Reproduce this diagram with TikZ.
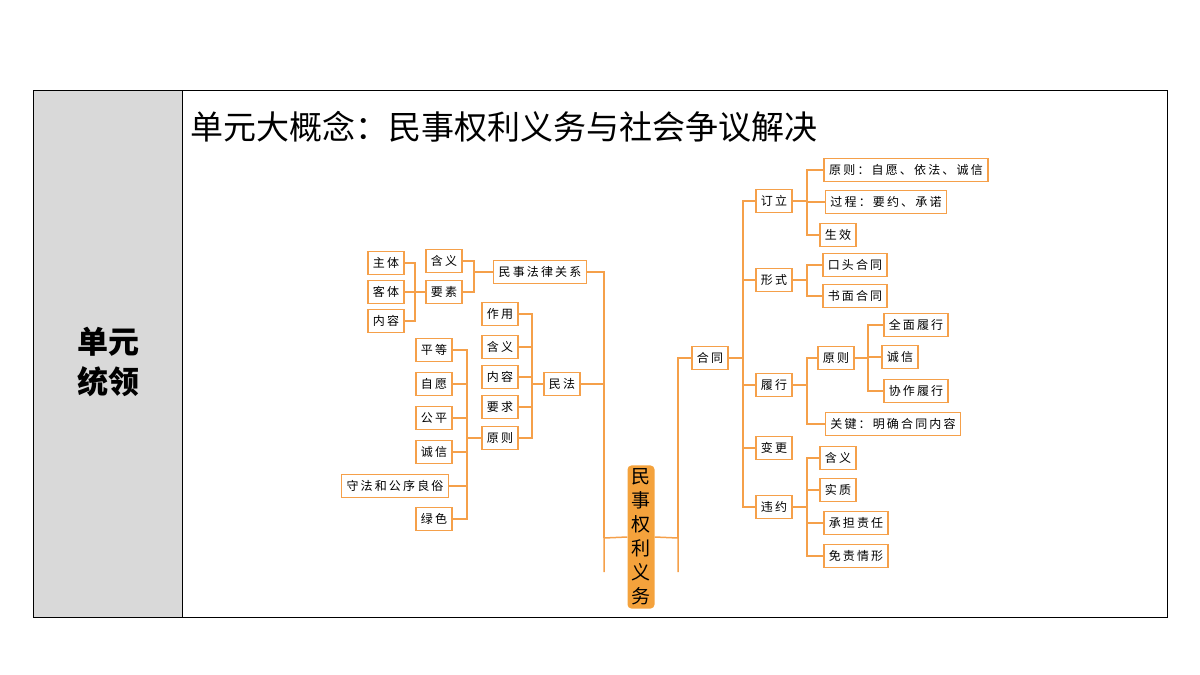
\documentclass[tikz,border=0pt]{standalone}
\usepackage{fontspec}
\newfontfamily\cjk{Noto Sans CJK SC}
\newfontfamily\cjkbox[LetterSpace=18]{Noto Sans CJK SC}
\usetikzlibrary{positioning}
\definecolor{linkorange}{HTML}{F5A04A}
\definecolor{coreorange}{HTML}{F4A23C}
\definecolor{leftgray}{HTML}{D9D9D9}
\tikzset{
  box/.style={draw=linkorange,line width=1.5pt,fill=white,minimum height=23pt,inner xsep=5pt,inner ysep=0pt,font=\cjkbox\fontsize{12}{12}\selectfont},
  link/.style={draw=linkorange,line width=1.5pt},
}
\begin{document}
\begin{tikzpicture}[x=1pt,y=-1pt]
\useasboundingbox (0,0) rectangle (1200,675);
% frame
\fill[leftgray] (33,90) rectangle (182,617);
\draw[line width=1pt] (33,90) rectangle (1167,617);
\draw[line width=1pt] (182,90) -- (182,617);
\node[font=\cjk\bfseries\fontsize{31}{40}\selectfont,align=center] (lead) at (108,362) {单元\\统领};
\node[anchor=west,font=\cjk\fontsize{33}{33}\selectfont,inner sep=0pt] (title) at (190,127) {单元大概念：民事权利义务与社会争议解决};

% core
\node[fill=coreorange,rounded corners=4pt,minimum width=27pt,minimum height=139pt,align=center,font=\cjk\fontsize{19}{24}\selectfont] (core) at (641,537) {民\\事\\权\\利\\义\\务};
\coordinate (jL) at (604,538);
\coordinate (jLend) at (604,572);
\coordinate (jR) at (678,538);
\coordinate (jRend) at (678,572);
\draw[link] (core.west) -- (jL) -- (jLend);
\draw[link] (core.east) -- (jR) -- (jRend);

% left: legal relation
\node[box] (guanxi) at (540,272) {民事法律关系};
\node[box] (hanyi1) at (444,261) {含义};
\node[box] (yaosu) at (444,292) {要素};
\node[box] (zhuti) at (386,263) {主体};
\node[box] (keti) at (386,292) {客体};
\node[box] (neirong1) at (386,321) {内容};
\coordinate (jGx) at (474,272);
\coordinate (jYs) at (415,292);
\draw[link] (guanxi.east) -| (jL);
\draw[link] (guanxi.west) -- (jGx);
\foreach \n in {hanyi1,yaosu} \draw[link] (\n.east) -| (jGx);
\draw[link] (yaosu.west) -- (jYs);
\foreach \n in {zhuti,keti,neirong1} \draw[link] (\n.east) -| (jYs);

% left: civil law
\node[box] (minfa) at (562,384) {民法};
\node[box] (zuoyong) at (500,314) {作用};
\node[box] (hanyi2) at (500,347) {含义};
\node[box] (neirong2) at (500,377) {内容};
\node[box] (yaoqiu) at (500,407) {要求};
\node[box] (yuanze1) at (500,438) {原则};
\coordinate (jMf) at (532,384);
\coordinate (jYz) at (467,438);
\draw[link] (minfa.east) -| (jL);
\draw[link] (minfa.west) -- (jMf);
\foreach \n in {zuoyong,hanyi2,neirong2,yaoqiu,yuanze1} \draw[link] (\n.east) -| (jMf);
\node[box] (pingdeng) at (434,350) {平等};
\node[box] (ziyuan) at (434,384) {自愿};
\node[box] (gongping) at (434,418) {公平};
\node[box] (chengxin1) at (434,452) {诚信};
\node[box] (shoufa) at (395,486) {守法和公序良俗};
\node[box] (lvse) at (434,519) {绿色};
\draw[link] (yuanze1.west) -- (jYz);
\foreach \n in {pingdeng,ziyuan,gongping,chengxin1,shoufa,lvse} \draw[link] (\n.east) -| (jYz);

% right: contract
\node[box] (hetong) at (710,358) {合同};
\coordinate (jHt) at (743,358);
\draw[link] (hetong.west) -| (jR);
\draw[link] (hetong.east) -- (jHt);
\node[box] (dingli) at (774,201) {订立};
\node[box] (xingshi) at (774,280) {形式};
\node[box] (lvxing) at (774,385) {履行};
\node[box] (biangeng) at (774,448) {变更};
\node[box] (weiyue) at (774,507) {违约};
\foreach \n in {dingli,xingshi,lvxing,biangeng,weiyue} \draw[link] (\n.west) -| (jHt);

\node[box] (yuanze2) at (906,170) {原则：自愿、依法、诚信};
\node[box] (guocheng) at (886,202) {过程：要约、承诺};
\node[box] (shengxiao) at (838,235) {生效};
\coordinate (jDl) at (807,201);
\draw[link] (dingli.east) -- (jDl);
\foreach \n in {yuanze2,guocheng,shengxiao} \draw[link] (\n.west) -| (jDl);

\node[box] (koutou) at (855,265) {口头合同};
\node[box] (shumian) at (855,296) {书面合同};
\coordinate (jXs) at (807,280);
\draw[link] (xingshi.east) -- (jXs);
\foreach \n in {koutou,shumian} \draw[link] (\n.west) -| (jXs);

\node[box] (yuanze3) at (836,358) {原则};
\node[box] (guanjian) at (893,424) {关键：明确合同内容};
\coordinate (jLx) at (807,385);
\draw[link] (lvxing.east) -- (jLx);
\foreach \n in {yuanze3,guanjian} \draw[link] (\n.west) -| (jLx);
\node[box] (quanmian) at (916,325) {全面履行};
\node[box] (chengxin2) at (900,357) {诚信};
\node[box] (xiezuo) at (916,391) {协作履行};
\coordinate (jYz3) at (868,358);
\draw[link] (yuanze3.east) -- (jYz3);
\foreach \n in {quanmian,chengxin2,xiezuo} \draw[link] (\n.west) -| (jYz3);

\node[box] (hanyi3) at (838,458) {含义};
\node[box] (shizhi) at (838,490) {实质};
\node[box] (chengdan) at (856,523) {承担责任};
\node[box] (mianze) at (856,556) {免责情形};
\coordinate (jWy) at (807,507);
\draw[link] (weiyue.east) -- (jWy);
\foreach \n in {hanyi3,shizhi,chengdan,mianze} \draw[link] (\n.west) -| (jWy);
\end{tikzpicture}
\end{document}
